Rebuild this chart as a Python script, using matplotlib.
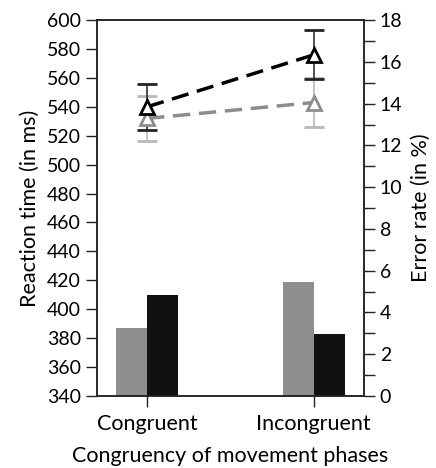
import numpy as np
import matplotlib
matplotlib.use('Agg')
from matplotlib import pyplot as plt
from matplotlib.ticker import MultipleLocator

plt.rcParams['font.family'] = ['Lato', 'DejaVu Sans']

categories = ['Congruent', 'Incongruent']

# reaction times (left axis, ms)
rt_black = [540, 576]
rt_black_err = [16, 17]
rt_gray = [532, 543]
rt_gray_err = [15.5, 17]

# error rates (right axis, %)
err_gray = [3.25, 5.45]
err_black = [4.85, 2.95]

x = np.arange(len(categories))
width = 0.185

fig = plt.figure(figsize=(4.36, 4.68), dpi=100)
ax = fig.add_axes([0.2225, 0.154, 0.612, 0.803])
ax2 = ax.twinx()

ax2.bar(x - width / 2, err_gray, width, color='#8e8e8e', zorder=1)
ax2.bar(x + width / 2, err_black, width, color='#111111', zorder=1)

ax.set_zorder(ax2.get_zorder() + 1)
ax.patch.set_visible(False)

ax.errorbar(x, rt_gray, yerr=rt_gray_err, color='#8c8c8c', ecolor='#b8b8b8',
            elinewidth=1.2, capsize=7.5, capthick=1.2, linestyle=(0, (5, 2.5)),
            linewidth=2.5, marker='^', markersize=10, markeredgewidth=2,
            markerfacecolor='white', markeredgecolor='#8c8c8c')
ax.errorbar(x, rt_black, yerr=rt_black_err, color='black', ecolor='#222222',
            elinewidth=1.1, capsize=7.5, capthick=1.1, linestyle=(0, (5, 2.5)),
            linewidth=2.5, marker='^', markersize=10, markeredgewidth=2,
            markerfacecolor='white', markeredgecolor='black')

ax.set_xlim(-0.3, 1.3)
ax.set_ylim(340, 600)
ax2.set_ylim(0, 18)
ax.yaxis.set_major_locator(MultipleLocator(20))
ax2.yaxis.set_major_locator(MultipleLocator(2))
ax2.yaxis.set_minor_locator(MultipleLocator(1))

ax.set_xticks(x)
ax.set_xticklabels(categories)

for a in (ax, ax2):
    a.tick_params(axis='both', which='both', direction='out', length=8,
                  width=1, labelsize=14, color='#222222', labelcolor='#000000')
    for s in a.spines.values():
        s.set_linewidth(1.1)
        s.set_color('#222222')
ax.tick_params(axis='x', labelsize=15.5, pad=5)

ax.set_ylabel('Reaction time (in ms)', fontsize=15.5, labelpad=5)
ax2.set_ylabel('Error rate (in %)', fontsize=15.5, labelpad=6)
ax.set_xlabel('Congruency of movement phases', fontsize=15.5, labelpad=9)

fig.savefig('out.png', dpi=100)
